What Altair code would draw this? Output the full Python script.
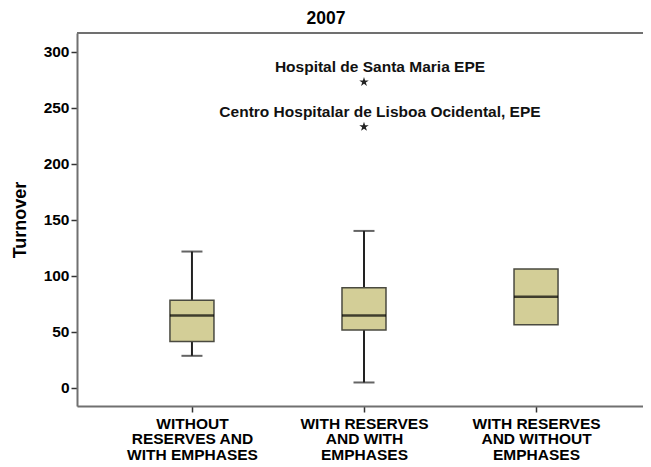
import altair as alt
import pandas as pd

# ---- data ----
categories = [
    "WITHOUT\nRESERVES AND\nWITH EMPHASES",
    "WITH RESERVES\nAND WITH\nEMPHASES",
    "WITH RESERVES\nAND WITHOUT\nEMPHASES",
]
q1 = [41.3, 51.5, 56.2]
median = [64.5, 64.5, 81.2]
q3 = [78.2, 89.2, 105.9]
whisker_low = [28.5, 4.7, 56.2]
whisker_high = [121.6, 140.0, 105.9]

outlier_category = [categories[1], categories[1]]
outlier_value = [273.0, 233.0]
outlier_label = ["Hospital de Santa Maria EPE", "Centro Hospitalar de Lisboa Ocidental, EPE"]

y_ticks = [0, 50, 100, 150, 200, 250, 300]
chart_title = ["2007"]

boxes = pd.DataFrame({"cat": categories, "q1": q1, "med": median, "q3": q3,
                      "lo": whisker_low, "hi": whisker_high})
whiskers = boxes[boxes["lo"] < boxes["q1"]]
outliers = pd.DataFrame({"cat": outlier_category, "v": outlier_value, "label": outlier_label})
title_df = pd.DataFrame({"t": chart_title})

FONT = "Liberation Sans"
W, H = 566, 373

x_enc = alt.X(
    "cat:N", sort=categories, title=None,
    scale=alt.Scale(type="point", padding=0.645, align=0.518),
    axis=alt.Axis(labelAngle=0, labelExpr="split(datum.label, '\\n')",
                  labelFontSize=15.5, labelFontWeight="bold", labelLineHeight=15.5,
                  labelPadding=4, labelBaseline="top",
                  labelColor="#000", labelLimit=300, labelFont=FONT,
                  tickSize=6, tickColor="#333", tickWidth=1.5,
                  domainColor="#707070", domainWidth=2),
)
yscale = alt.Scale(domain=[-16.3, 316.7], nice=False, zero=False)
y_axis = alt.Axis(values=y_ticks, grid=False, title="Turnover",
                  titleFontSize=18, titleFontWeight="bold", titleColor="#000",
                  titleFont=FONT, titleAngle=270, titleAlign="center",
                  titleBaseline="middle", titleX=-57, titleY=H / 2,
                  labelFontSize=15.5, labelFontWeight="bold", labelColor="#000",
                  labelFont=FONT, labelPadding=2,
                  tickSize=6, tickColor="#333", tickWidth=1.5,
                  domainColor="#707070", domainWidth=2)

base = alt.Chart(boxes)

whisker_rule = alt.Chart(whiskers).mark_rule(color="#222", strokeWidth=2).encode(
    x=x_enc, y=alt.Y("lo:Q", scale=yscale, axis=y_axis), y2="hi:Q")
cap_lo = alt.Chart(whiskers).mark_tick(size=21, thickness=2, color="#222").encode(
    x=x_enc, y=alt.Y("lo:Q", scale=yscale))
cap_hi = alt.Chart(whiskers).mark_tick(size=21, thickness=2, color="#222").encode(
    x=x_enc, y=alt.Y("hi:Q", scale=yscale))
box = base.mark_bar(size=44, fill="#D3CE97", stroke="#4a4a40", strokeWidth=1.5).encode(
    x=x_enc, y=alt.Y("q1:Q", scale=yscale), y2="q3:Q")
med = base.mark_tick(size=44, thickness=2.5, color="#000").encode(
    x=x_enc, y=alt.Y("med:Q", scale=yscale))

star_path = ("M0,-1L0.2245,-0.309L0.951,-0.309L0.363,0.118L0.588,0.809L0,0.382"
             "L-0.588,0.809L-0.363,0.118L-0.951,-0.309L-0.2245,-0.309Z")
stars = alt.Chart(outliers).mark_point(shape=star_path, size=100, filled=True,
                                       color="#222", opacity=1).encode(
    x=x_enc, y=alt.Y("v:Q", scale=yscale))
labels = alt.Chart(outliers).mark_text(dx=16, dy=-15, fontSize=15.5, fontWeight="bold",
                                       font=FONT, color="#111", baseline="middle").encode(
    x=x_enc, y=alt.Y("v:Q", scale=yscale), text="label:N")

top_line = alt.Chart(boxes).mark_rule(color="#707070", strokeWidth=2).encode(
    x=alt.value(0), x2=alt.value(W), y=alt.value(0))

title_text = alt.Chart(title_df).mark_text(fontSize=17.5, fontWeight="bold", font=FONT,
                                           color="#000", baseline="alphabetic",
                                           align="center").encode(
    x=alt.value(249), y=alt.value(-9), text="t:N")

chart = alt.layer(whisker_rule, cap_lo, cap_hi, box, med, stars, labels, top_line,
                  title_text).properties(
    width=W, height=H,
    autosize=alt.AutoSizeParams(type="none"),
    padding={"left": 69, "top": 25, "right": 0, "bottom": 58},
).configure_view(fill="#F0F0F0", strokeWidth=0).configure(font=FONT, background="#ffffff")

chart.save("out.html", embed_options={"renderer": "svg", "actions": False})
